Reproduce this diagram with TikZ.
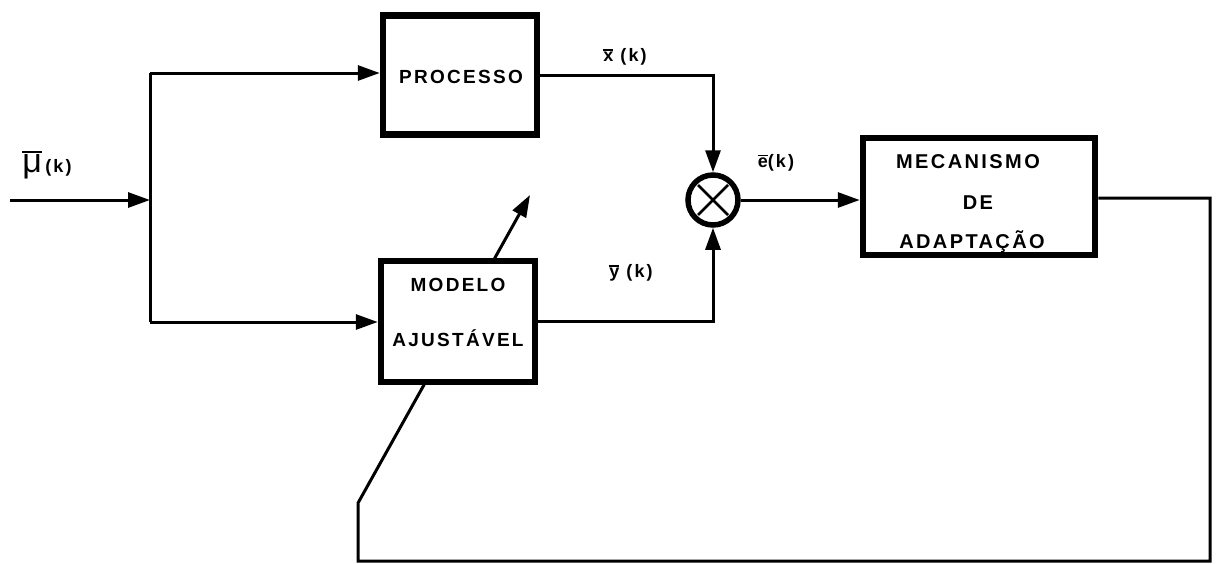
\documentclass[tikz,border=0pt]{standalone}
\usepackage{fontspec}
\setmainfont{Liberation Sans}
\newfontfamily\lab[LetterSpace=12]{Liberation Sans}
\usetikzlibrary{arrows.meta,backgrounds,calc}
\newcommand{\barred}[2][1.8pt]{\leavevmode\vbox{\hrule height #1\kern1.6pt\hbox{#2}}}
\begin{document}
\begin{tikzpicture}[x=1pt,y=-1pt,
  blk/.style={draw,line width=6.5pt,fill=white,inner sep=0pt},
  conn/.style={line width=3pt},
  arr/.style={conn,-{Triangle[length=22pt,width=15pt]}},
  txt/.style={font=\lab\bfseries\fontsize{19}{19}\selectfont,inner sep=0pt},
  sig/.style={font=\lab\bfseries\fontsize{18}{18}\selectfont,inner sep=0pt}]
\useasboundingbox (0,0) rectangle (1220,563);

% blocks
\node[blk,minimum width=154pt,minimum height=119pt] (proc) at (460,75) {};
\node[txt] (proct) at (461,77) {PROCESSO};
\node[blk,minimum width=154pt,minimum height=121pt] (mod) at (458,321.5) {};
\node[txt] (modt1) at (458,285) {MODELO};
\node[txt] (modt2) at (458,338) {AJUSTÁVEL};
\node[blk,minimum width=232pt,minimum height=117pt] (mec) at (979,196.5) {};
\node[txt,font=\lab\bfseries\fontsize{20}{20}\selectfont] (mect1) at (968,162) {MECANISMO};
\node[txt,font=\lab\bfseries\fontsize{20}{20}\selectfont] (mect2) at (978,203) {DE};
\node[txt,font=\lab\bfseries\fontsize{20}{20}\selectfont] (mect3) at (972,242) {ADAPTAÇÃO};
\node[draw,circle,line width=5.5pt,minimum size=50pt,inner sep=0pt,fill=white] (sum) at (713,200) {};
\draw[line width=2.8pt] ($(sum.center)+(-15,-15)$) -- ($(sum.center)+(15,15)$);
\draw[line width=2.8pt] ($(sum.center)+(-15,15)$) -- ($(sum.center)+(15,-15)$);

% coordinates
\coordinate (in) at (10,200);
\coordinate (j) at (150,200);
\coordinate (jt) at (150,73);
\coordinate (jb) at (150,322);
\coordinate (fr) at (1210,198);
\coordinate (fbr) at (1210,561);
\coordinate (fbl) at (358,561);
\coordinate (fk) at (358,503);
\coordinate (tip) at (530,195);

% connectors
\draw[arr] (in) -- (j);
\draw[conn] (jt) -- (jb);
\draw[arr] (jt) -- (jt -| proc.west);
\draw[arr] (jb) -- (jb -| mod.west);
\draw[arr] (proc.east) -| (sum.north);
\draw[arr] (mod.east) -| (sum.south);
\draw[arr] (sum.east) -- (sum.east -| mec.west);
\begin{pgfonlayer}{background}
\draw[arr,line join=miter] (mec.east |- fr) -- (fr) -- (fbr) -- (fbl) -- (fk) -- (tip);
\end{pgfonlayer}

% labels
\node[inner sep=0pt] (mu) at (47,165) {{\fontsize{34}{34}\selectfont\barred[2pt]{μ}}\,\,{\lab\bfseries\fontsize{18}{18}\selectfont(k)}};
\node[sig] (xl) at (625,57) {\barred{x} (k)};
\node[sig] (el) at (776,163) {\barred{e}(k)};
\node[sig] (yl) at (631,273) {\barred{y} (k)};
\end{tikzpicture}
\end{document}
